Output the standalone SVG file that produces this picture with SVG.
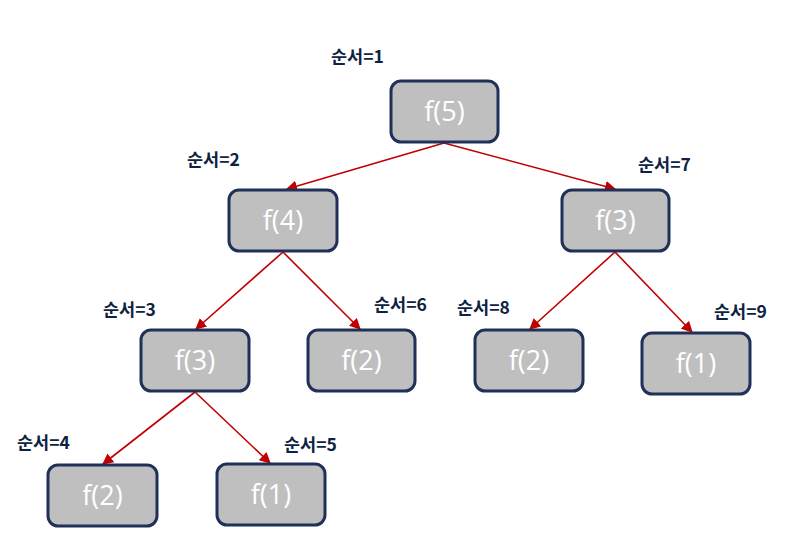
<svg xmlns="http://www.w3.org/2000/svg" width="793" height="556" viewBox="0 0 793 556">
<defs>
<marker id="ah" viewBox="0 0 10 10" refX="9" refY="5" markerWidth="7" markerHeight="7" orient="auto" markerUnits="strokeWidth">
<path d="M0,0 L10,5 L0,10 Z" fill="#c00000"/>
</marker>
<style>
.box{fill:#bfbfbf;stroke:#203058;stroke-width:3}
.t{font-family:"Open Sans","Liberation Sans",sans-serif;font-size:27px;fill:#ffffff;text-anchor:middle}
.lb{font-family:"Noto Sans CJK KR","Noto Sans",sans-serif;font-size:17.5px;font-weight:bold;fill:#0e2341}
.c{stroke:#c00000;stroke-width:1.6;fill:none;marker-end:url(#ah)}
</style>
</defs>
<rect width="793" height="556" fill="#ffffff"/>
<g id="connectors">
<line class="c" x1="444" y1="143" x2="287" y2="189"/>
<line class="c" x1="444" y1="143" x2="615" y2="189"/>
<line class="c" x1="283" y1="252" x2="196" y2="329"/>
<line class="c" x1="283" y1="252" x2="360" y2="329"/>
<line class="c" x1="615" y1="252" x2="530" y2="329"/>
<line class="c" x1="615" y1="252" x2="692" y2="332"/>
<line class="c" x1="195" y1="392" x2="103" y2="464"/>
<line class="c" x1="195" y1="392" x2="270" y2="463"/>
</g>
<g id="n1"><rect class="box" x="391" y="81" width="107" height="61" rx="10"/><text class="t" x="444.5" y="121">f(5)</text><text class="lb" x="331" y="63">순서=1</text></g>
<g id="n2"><rect class="box" x="229" y="190" width="108" height="61" rx="10"/><text class="t" x="283" y="230">f(4)</text><text class="lb" x="187" y="166">순서=2</text></g>
<g id="n3"><rect class="box" x="141" y="330" width="108" height="61" rx="10"/><text class="t" x="195" y="370">f(3)</text><text class="lb" x="103" y="316">순서=3</text></g>
<g id="n4"><rect class="box" x="48" y="465" width="109" height="61" rx="10"/><text class="t" x="102.5" y="505">f(2)</text><text class="lb" x="17" y="449">순서=4</text></g>
<g id="n5"><rect class="box" x="217" y="464" width="108" height="61" rx="10"/><text class="t" x="271" y="504">f(1)</text><text class="lb" x="284" y="451">순서=5</text></g>
<g id="n6"><rect class="box" x="308" y="330" width="107" height="61" rx="10"/><text class="t" x="361.5" y="370">f(2)</text><text class="lb" x="374" y="311">순서=6</text></g>
<g id="n7"><rect class="box" x="562" y="190" width="107" height="61" rx="10"/><text class="t" x="615.5" y="230">f(3)</text><text class="lb" x="638" y="171">순서=7</text></g>
<g id="n8"><rect class="box" x="475" y="330" width="108" height="61" rx="10"/><text class="t" x="529" y="370">f(2)</text><text class="lb" x="457" y="314">순서=8</text></g>
<g id="n9"><rect class="box" x="642" y="333" width="108" height="61" rx="10"/><text class="t" x="696" y="373">f(1)</text><text class="lb" x="714" y="318">순서=9</text></g>
</svg>
